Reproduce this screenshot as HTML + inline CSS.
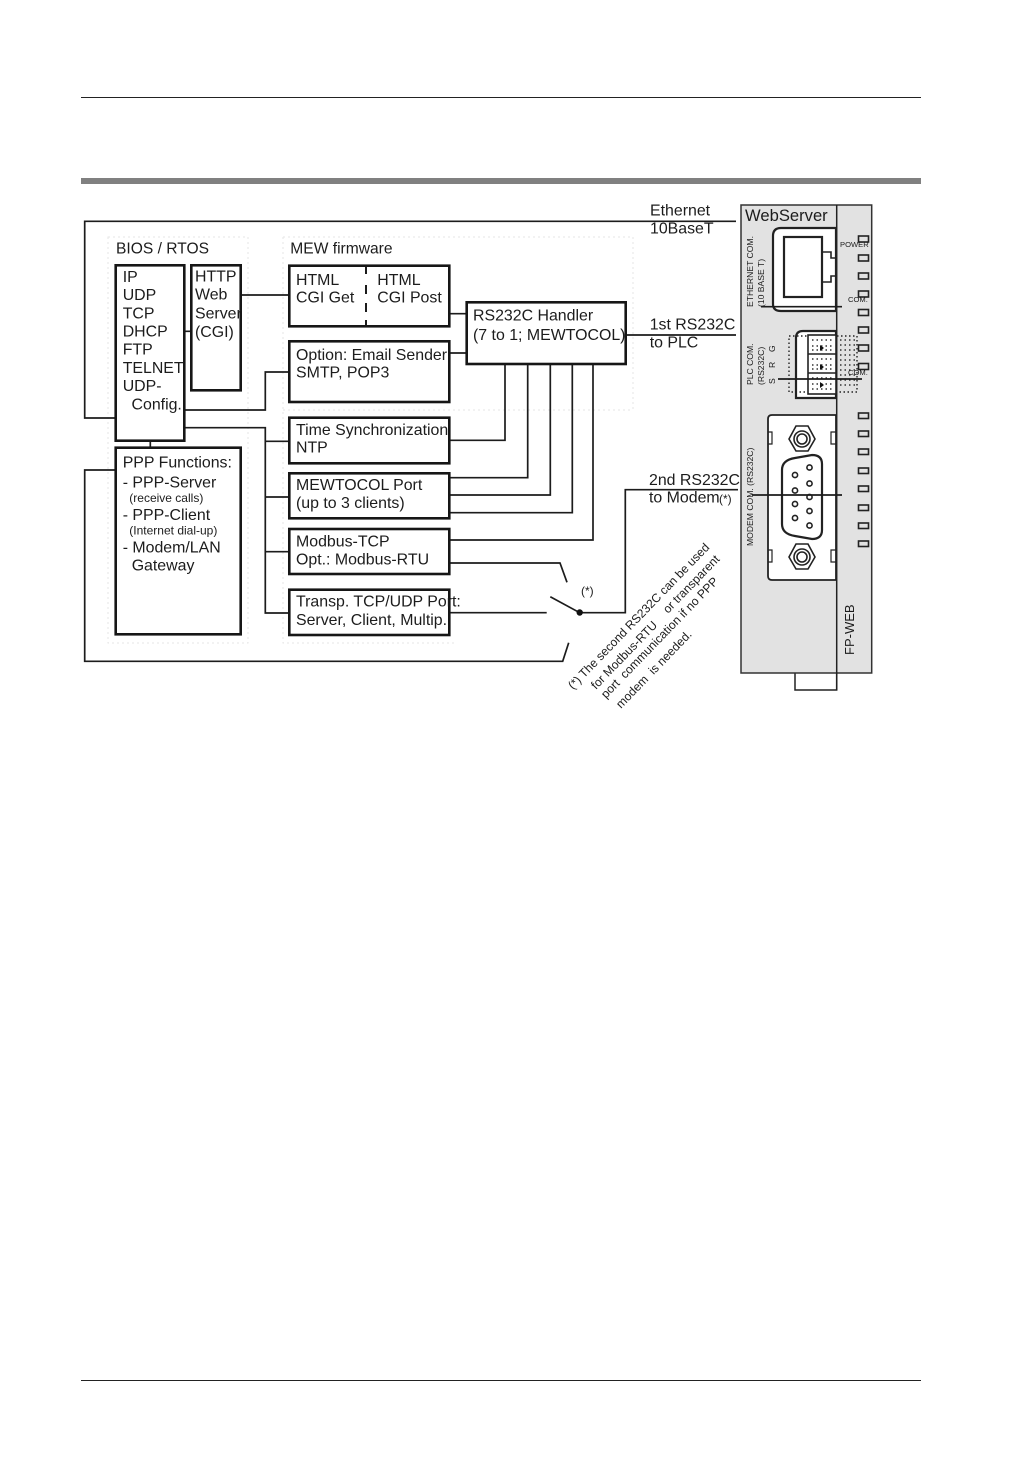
<!DOCTYPE html>
<html><head><meta charset="utf-8"><style>
html,body{margin:0;padding:0;background:#fff}
svg{display:block}
text{font-family:"Liberation Sans",sans-serif;fill:#1c1c1c;font-size:15.9px}
.b{fill:#fff;stroke:#161616;stroke-width:2.6}
.l{fill:none;stroke:#1c1c1c;stroke-width:1.7}
text.s{font-size:12px}
.d text{font-size:8.6px}
.r text{font-size:12.1px;white-space:pre}
.dot{fill:none;stroke:#e6e6e6;stroke-width:1;stroke-dasharray:2 3}
.led{fill:none;stroke:#222;stroke-width:1.6}
</style></head><body>
<svg width="1032" height="1458" viewBox="0 0 1032 1458" xmlns="http://www.w3.org/2000/svg">
<rect x="81" y="97" width="840" height="1" fill="#222"/>
<rect x="81" y="178" width="840" height="6" fill="#808080"/>
<rect x="81" y="1380" width="840" height="1" fill="#222"/>

<path class="dot" d="M108 237H248V643H108Z"/>
<path class="dot" d="M283 237H633V410M283 237V643H455M283 410H633"/>

<!-- device -->
<path d="M795 673V690H836.7V673" fill="#fff" stroke="#222" stroke-width="1.5"/>
<rect x="741" y="205" width="130.7" height="468" fill="#e2e2e2" stroke="#333" stroke-width="1.5"/>
<line x1="836.7" y1="205" x2="836.7" y2="690" stroke="#222" stroke-width="1.5"/>
<path d="M836 228H781Q773 228 773 236V304Q773 311 781 311H836Z" fill="#fff" stroke="#222" stroke-width="2.2"/>
<rect x="784" y="237" width="38" height="60" fill="#fff" stroke="#222" stroke-width="2.2"/>
<path d="M822 252H831V258H836M822 282H831V276H836" fill="none" stroke="#222" stroke-width="1.6"/>
<path d="M836 331H803Q796 331 796 338V398H836Z" fill="#fff" stroke="#222" stroke-width="2.2"/>
<rect x="789" y="336" width="68" height="56" fill="none" stroke="#222" stroke-width="1.4" stroke-dasharray="1.5 2.5"/>
<rect x="808" y="335" width="28" height="59" fill="#fff" stroke="#222" stroke-width="1.6"/>
<path d="M808 354H836M808 373H836" stroke="#222" stroke-width="1.6"/>
<path d="M812 340H834M812 346H834M812 350H834M812 359H834M812 365H834M812 369H834M812 378H834M812 384H834M812 389H834M840 340H856M840 345H856M840 350H856M840 355H856M840 360H856M840 365H856M840 370H856M840 375H856M840 380H856M840 385H856" stroke="#333" stroke-width="1.5" stroke-dasharray="1.5 3"/>
<path d="M820 345l4 3-4 3zM820 364l4 3-4 3zM820 382l4 3-4 3z" fill="#111"/>

<path d="M836 415H772Q768 415 768 419V576Q768 580 772 580H836Z" fill="#fff" stroke="#222" stroke-width="1.8"/>
<path d="M768 432H772V444H768M836 432H831V444H836M768 550H772V562H768M836 550H831V562H836" fill="none" stroke="#222" stroke-width="1.2"/>
<path d="M789 439L796 426L808 426L815 439L808 451L796 451Z M789 557L796 544L808 544L815 557L808 569L796 569Z" fill="#fff" stroke="#222" stroke-width="1.6"/>
<circle cx="802" cy="439" r="8" fill="#fff" stroke="#222" stroke-width="1.6"/><circle cx="802" cy="439" r="5" fill="none" stroke="#222" stroke-width="1.6"/>
<circle cx="802" cy="557" r="8" fill="#fff" stroke="#222" stroke-width="1.6"/><circle cx="802" cy="557" r="5" fill="none" stroke="#222" stroke-width="1.6"/>
<path d="M782 470Q782 460 795 458L812 455Q822 455 822 464V530Q822 539 812 539L795 536Q782 534 782 524Z" fill="#fff" stroke="#222" stroke-width="2.2"/>
<g fill="#fff" stroke="#222" stroke-width="1.6"><circle cx="809.500" cy="467.500" r="2.600"/><circle cx="809.500" cy="483.500" r="2.600"/><circle cx="809.500" cy="497" r="2.600"/><circle cx="809.500" cy="511" r="2.600"/><circle cx="809.500" cy="525.500" r="2.600"/><circle cx="795" cy="475" r="2.600"/><circle cx="795" cy="490.500" r="2.600"/><circle cx="795" cy="504" r="2.600"/><circle cx="795" cy="518" r="2.600"/></g>

<g class="led">
<rect x="858.500" y="236" width="10" height="6"/><rect x="858.500" y="255" width="10" height="6"/><rect x="858.500" y="273" width="10" height="6"/><rect x="858.500" y="291" width="10" height="6"/><rect x="858.500" y="309.500" width="10" height="6"/><rect x="858.500" y="327" width="10" height="6"/><rect x="858.500" y="345" width="10" height="6"/><rect x="858.500" y="363.500" width="10" height="6"/>
<rect x="858.500" y="413" width="10" height="5.500"/><rect x="858.500" y="431" width="10" height="5.500"/><rect x="858.500" y="449" width="10" height="5.500"/><rect x="858.500" y="468" width="10" height="5.500"/><rect x="858.500" y="486" width="10" height="5.500"/><rect x="858.500" y="505" width="10" height="5.500"/><rect x="858.500" y="523" width="10" height="5.500"/><rect x="858.500" y="541" width="10" height="5.500"/>
</g>

<!-- connectors -->
<g class="l">
<path d="M736 221.300H84.700V418H116"/>
<path d="M116 470H84.700V661.300H562.700L568.700 642.700"/>
<path d="M184 331.300H191M240 295H289M449 313.700H467M449 353H467M625 335H736M150.300 440V448"/>
<path d="M184 410H265.300V372H289M184 427.700H265.300V613H289M265.300 441.300H289M265.300 497H289M265.300 551.700H289"/>
<path d="M505 364V440.300H449M527.700 364V477.700H449M550.300 364V495H449M572.300 364V512.700H449M593 364V540H449"/>
<path d="M449 563H560L567 582.300M449 612.700H546.700"/>
<path d="M550.300 596.700L579.700 612.700H625.300V489.700H738"/>
<path d="M761 306.700H842M778 379H862M752 495H842"/>
<path d="M366 267V274M366 285V294M366 303V312M366 320V326" stroke-width="2"/>
</g>
<circle cx="579.700" cy="612.500" r="3.200" fill="#111"/>

<!-- boxes -->
<rect class="b" x="115.700" y="265.300" width="68.600" height="175.400"/>
<rect class="b" x="191.300" y="265.300" width="49.400" height="125"/>
<rect class="b" x="115.700" y="447.700" width="125" height="186.600"/>
<rect class="b" style="fill:none" x="289.300" y="265.700" width="160" height="60.600"/>
<rect class="b" style="fill:none" x="289.300" y="341.300" width="160" height="60.700"/>
<rect class="b" style="fill:none" x="289.300" y="417.700" width="160" height="45.600"/>
<rect class="b" style="fill:none" x="289.300" y="473.300" width="160" height="45"/>
<rect class="b" style="fill:none" x="289.300" y="529" width="160" height="45"/>
<rect class="b" style="fill:none" x="289.300" y="589.700" width="160" height="45.300"/>
<rect class="b" style="fill:none" x="466.700" y="302.300" width="159" height="61.700"/>

<!-- labels -->
<g>
<text x="116" y="253.300" style="font-size:15.600px">BIOS / RTOS</text>
<text x="290.300" y="253.300" style="font-size:15.600px">MEW firmware</text>
<text x="122.700" y="282">IP</text><text x="122.700" y="300">UDP</text><text x="122.700" y="318.300">TCP</text><text x="122.700" y="336.500">DHCP</text><text x="122.700" y="354.700">FTP</text><text x="122.700" y="373">TELNET</text><text x="122.700" y="391">UDP-</text><text x="131.500" y="409.300">Config.</text>
<text x="195" y="281.700">HTTP</text><text x="195" y="299.700">Web</text><text x="195" y="318.500">Server</text><text x="195" y="337">(CGI)</text>
<text x="296" y="285">HTML</text><text x="296" y="302.700">CGI Get</text><text x="377.300" y="285">HTML</text><text x="377.300" y="302.700">CGI Post</text>
<text x="296" y="360">Option: Email Sender</text><text x="296" y="377.700">SMTP, POP3</text>
<text x="296" y="435">Time Synchronization</text><text x="296" y="452.700">NTP</text>
<text x="296" y="490">MEWTOCOL Port</text><text x="296" y="508">(up to 3 clients)</text>
<text x="296" y="546.700">Modbus-TCP</text><text x="296" y="564.700">Opt.: Modbus-RTU</text>
<text x="296" y="606.700">Transp. TCP/UDP Port:</text><text x="296" y="625">Server, Client, Multip.</text>
<text x="122.700" y="467.700">PPP Functions:</text><text x="122.700" y="487.300">- PPP-Server</text><text x="129.300" y="502" class="s">(receive calls)</text><text x="122.700" y="520">- PPP-Client</text><text x="129.300" y="534.300" class="s">(Internet dial-up)</text><text x="122.700" y="552.700">- Modem/LAN</text><text x="131.700" y="570.700">Gateway</text>
<text x="473" y="320.700">RS232C Handler</text><text x="473" y="340">(7 to 1; MEWTOCOL)</text>
<text x="650" y="215.700">Ethernet</text><text x="650" y="233.300">10BaseT</text>
<text x="649.700" y="329.300">1st RS232C</text><text x="649.700" y="347.300">to PLC</text>
<text x="649" y="485">2nd RS232C</text><text x="649" y="502.700">to Modem</text>
</g>
<text x="719" y="503" class="s">(*)</text>
<text x="581" y="595" class="s">(*)</text>
<g class="r">
<text transform="translate(573,690) rotate(-46)">(*) The second RS232C can be used</text>
<text transform="translate(596,690) rotate(-46)">for Modbus-RTU</text>
<text transform="translate(668,614) rotate(-46)">or transparent</text>
<text transform="translate(606,699) rotate(-46)">port  communication if no PPP</text>
<text transform="translate(621,709) rotate(-46)">modem  is needed.</text>
</g>
<text x="745" y="221" style="font-size:16.600px">WebServer</text>
<g class="d">
<text transform="translate(753,307) rotate(-90)">ETHERNET COM.</text>
<text transform="translate(764,307) rotate(-90)">(10 BASE T)</text>
<text transform="translate(753,385) rotate(-90)">PLC COM.</text>
<text transform="translate(764,385) rotate(-90)">(RS232C)</text>
<text transform="translate(775,384) rotate(-90)">S</text>
<text transform="translate(775,368) rotate(-90)">R</text>
<text transform="translate(775,352) rotate(-90)">G</text>
<text transform="translate(753,546) rotate(-90)">MODEM COM. (RS232C)</text>
<text x="840" y="247" style="font-size:7.600px">POWER</text>
<text x="848" y="302" style="font-size:7.600px">COM.</text>
<text x="848" y="375" style="font-size:7.600px">COM.</text>
</g>
<text transform="translate(854,655) rotate(-90)" style="font-size:13px">FP-WEB</text>
</svg>
</body></html>
